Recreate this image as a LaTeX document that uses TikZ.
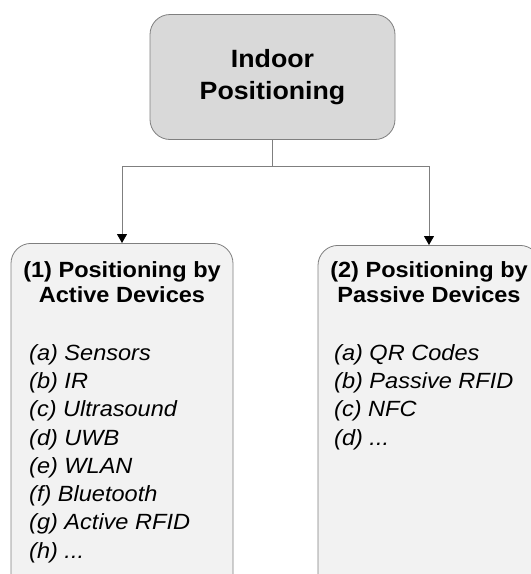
\documentclass[tikz,border=0pt]{standalone}
\usepackage{fontspec}
\setmainfont[FakeStretch=1.07]{Liberation Sans}
\usetikzlibrary{arrows.meta,positioning}

\definecolor{boxline}{HTML}{7F7F7F}
\definecolor{rootfill}{HTML}{D9D9D9}
\definecolor{groupfill}{HTML}{F2F2F2}

\tikzset{
  box/.style = {draw=boxline, line width=0.8pt, rounded corners=20pt},
  rootbox/.style = {box, fill=rootfill, minimum width=245pt, minimum height=125pt,
    align=center, font=\fontsize{25}{32}\selectfont\bfseries},
  groupbox/.style = {box, fill=groupfill, minimum width=222pt, minimum height=360pt, anchor=north},
  grouphead/.style = {anchor=north, inner sep=0pt, align=center,
    font=\fontsize{22}{25}\selectfont\bfseries},
  itemlist/.style = {anchor=north west, inner sep=0pt, align=left,
    font=\fontsize{22}{28.3}\selectfont\itshape},
  link/.style = {draw=boxline, line width=0.8pt,
    -{Triangle[width=10pt,length=9pt,color=black]}}
}

\begin{document}
\begin{tikzpicture}[x=1pt,y=-1pt]
    \useasboundingbox (0,0) rectangle (531,574);
    \clip (0,0) rectangle (531,574);

    \node[rootbox] (root) at (272.5,77) {Indoor\\Positioning};

    \node[groupbox] (active) at (122,243) {};
    \node[groupbox] (passive) at (429,245) {};

    \node[grouphead] (activehead) at (122,261) {(1) Positioning by\\Active Devices};
    \node[grouphead] (passivehead) at (429,261) {(2) Positioning by\\Passive Devices};

    \node[itemlist] (activelist) at (29,344) {(a) Sensors\\(b) IR\\(c) Ultrasound\\(d) UWB\\%
        (e) WLAN\\(f) Bluetooth\\(g) Active RFID\\(h) ...};
    \node[itemlist] (passivelist) at (334,344) {(a) QR Codes\\(b) Passive RFID\\(c) NFC\\(d) ...};

    \draw[link] (root.south) -- ++(0,26.5) -| (active.north);
    \draw[link] (root.south) -- ++(0,26.5) -| (passive.north);
\end{tikzpicture}
\end{document}
